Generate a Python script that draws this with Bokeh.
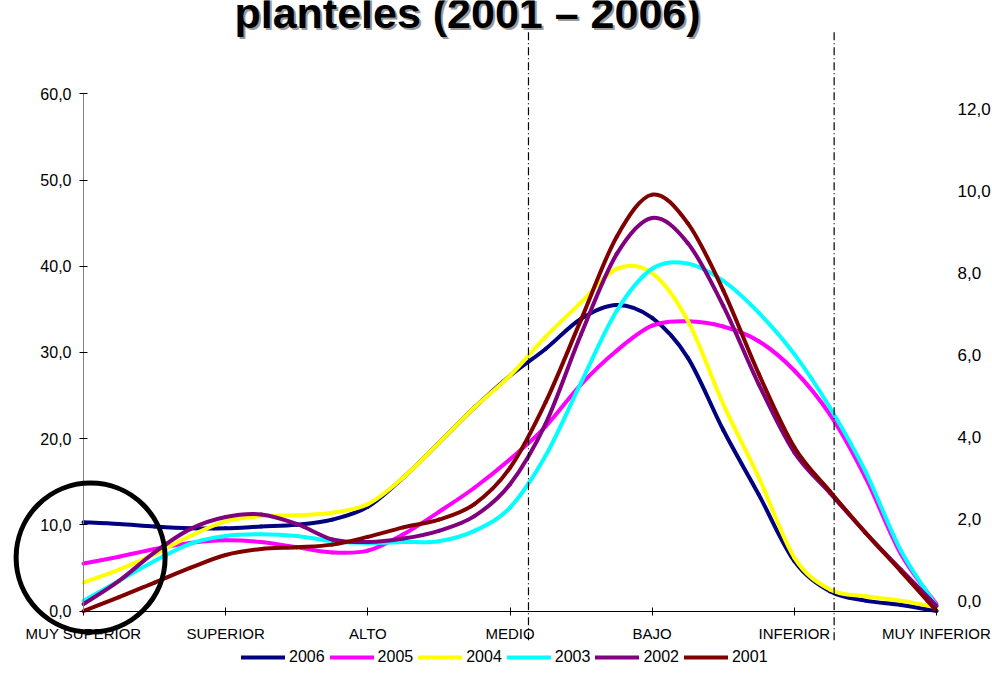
import numpy as np
from bokeh.plotting import figure
from bokeh.models import Range1d, LinearAxis, FixedTicker, Label, Legend, LegendItem
from bokeh.embed import file_html
from bokeh.resources import INLINE

# ---------------- data ----------------
CATEGORIES = ["MUY SUPERIOR", "SUPERIOR", "ALTO", "MEDIO", "BAJO", "INFERIOR", "MUY INFERIOR"]
STEPS_PER_CATEGORY = 4  # curve read every quarter category

Y_TICKS = [0, 10, 20, 30, 40, 50, 60]
Y_TICK_LABELS = ["0,0", "10,0", "20,0", "30,0", "40,0", "50,0", "60,0"]
Y2_TICKS = [0, 2, 4, 6, 8, 10, 12]
Y2_TICK_LABELS = ["0,0", "2,0", "4,0", "6,0", "8,0", "10,0", "12,0"]

YEARS = ["2006", "2005", "2004", "2003", "2002", "2001"]

S2006 = [10.3, 10.1, 9.8, 9.6, 9.6, 9.8, 10.0, 10.6, 12.1, 15.5, 19.5, 23.6, 27.3,
         30.4, 33.9, 35.5, 34.0, 29.4, 21.0, 13.5, 5.8, 2.3, 1.2, 0.7, 0.0]
S2005 = [5.5, 6.3, 7.2, 7.9, 8.2, 8.0, 7.4, 6.8, 7.0, 8.9, 11.5, 14.3, 17.6,
         21.4, 26.3, 30.2, 33.1, 33.6, 33.0, 31.3, 27.9, 22.8, 15.5, 6.6, 0.8]
S2004 = [3.3, 4.8, 6.6, 8.7, 10.4, 11.0, 11.1, 11.4, 12.4, 15.5, 19.5, 23.6, 27.3,
         31.8, 35.8, 39.7, 39.2, 33.7, 24.0, 15.5, 6.2, 2.5, 1.7, 1.2, 0.4]
S2003 = [1.2, 3.5, 5.8, 7.8, 8.7, 8.9, 8.7, 8.1, 7.9, 8.0, 8.1, 9.3, 12.0,
         18.0, 26.5, 34.8, 39.7, 40.3, 38.3, 34.6, 29.8, 23.6, 16.2, 7.0, 0.6]
S2002 = [0.8, 3.5, 6.8, 9.5, 10.9, 11.2, 10.1, 8.3, 8.0, 8.4, 9.3, 11.0, 14.7,
         21.7, 32.1, 41.4, 45.6, 42.7, 35.4, 26.3, 18.4, 13.7, 9.1, 4.8, 0.6]
S2001 = [0.0, 1.6, 3.3, 5.0, 6.5, 7.2, 7.4, 7.7, 8.6, 9.7, 10.6, 12.4, 16.6,
         24.2, 33.8, 43.4, 48.3, 45.0, 37.2, 27.5, 19.0, 13.9, 9.1, 4.6, 0.0]
SERIES = [S2006, S2005, S2004, S2003, S2002, S2001]
COLORS = ["#000080", "#FF00FF", "#FFFF00", "#00FFFF", "#800080", "#800000"]

TITLE_TEXT = "planteles (2001 – 2006)"

# annotations (category-axis positions / values)
DIVIDER_X = [3.13, 5.28]
DIVIDER_Y = (-3.4, 67.3)
CIRCLE_CENTER = (0.05, 6.2)

# ---------------- layout ----------------
W, H = 992, 691
FONT = "Liberation Sans"
X0_PX, X6_PX = 83.0, 936.0          # px of first / last category
PX_X = (X6_PX - X0_PX) / (len(CATEGORIES) - 1)
Y0_PX, PX_Y = 610.5, 8.62           # px of 0 (from top), px per unit
Y2_0_PX, PX_Y2 = 600.0, 41.0

x_range = Range1d(-X0_PX / PX_X, (W - X0_PX) / PX_X)
y_range = Range1d(-(H - Y0_PX) / PX_Y, Y0_PX / PX_Y)
y2_range = Range1d(-(H - Y2_0_PX) / PX_Y2, Y2_0_PX / PX_Y2)

p = figure(width=W, height=H, x_range=x_range, y_range=y_range,
           output_backend="svg", toolbar_location=None,
           x_axis_location=None, y_axis_location=None,
           min_border=0, outline_line_color=None)
p.grid.visible = False
p.extra_y_ranges = {"right": y2_range}


def smooth_segments(xv, yv):
    """Catmull-Rom control points for a smoothed (Excel-like) curve."""
    xv = np.asarray(xv, float)
    yv = np.asarray(yv, float)
    xp = np.concatenate([[xv[0]], xv, [xv[-1]]])
    yp = np.concatenate([[yv[0]], yv, [yv[-1]]])
    n = len(xv) - 1
    i = np.arange(n) + 1
    return dict(x0=xp[i], y0=yp[i], x1=xp[i + 1], y1=yp[i + 1],
                cx0=xp[i] + (xp[i + 1] - xp[i - 1]) / 6, cy0=yp[i] + (yp[i + 1] - yp[i - 1]) / 6,
                cx1=xp[i + 1] - (xp[i + 2] - xp[i]) / 6, cy1=yp[i + 1] - (yp[i + 2] - yp[i]) / 6)


xs = np.arange(len(S2006)) / STEPS_PER_CATEGORY
renderers = []
for year, vals, col in zip(YEARS, SERIES, COLORS):
    r = p.bezier(**smooth_segments(xs, vals), line_color=col, line_width=4,
                 line_cap="round", line_join="round")
    renderers.append((year, r))

# dash-dot dividers
p.segment(x0=DIVIDER_X, y0=[DIVIDER_Y[0]] * len(DIVIDER_X),
          x1=DIVIDER_X, y1=[DIVIDER_Y[1]] * len(DIVIDER_X),
          line_color="black", line_width=1.2, line_dash="8 3 1 3", level="overlay")

# black highlight circle
p.scatter([CIRCLE_CENTER[0]], [CIRCLE_CENTER[1]], marker="circle", size=149,
          fill_color=None, line_color="black", line_width=5, level="overlay")

# axes
xaxis = LinearAxis(ticker=FixedTicker(ticks=list(range(len(CATEGORIES)))),
                   fixed_location=0, bounds=(0, len(CATEGORIES) - 1),
                   major_label_overrides={i: c for i, c in enumerate(CATEGORIES)},
                   axis_line_color="black", major_tick_line_color="black",
                   major_tick_in=4, major_tick_out=4, minor_tick_line_color=None,
                   major_label_standoff=10, major_label_text_font=FONT,
                   major_label_text_font_size="15px", major_label_text_color="black")
p.add_layout(xaxis, "below")

yaxis = LinearAxis(ticker=FixedTicker(ticks=Y_TICKS), fixed_location=0,
                   bounds=(Y_TICKS[0], Y_TICKS[-1]),
                   major_label_overrides=dict(zip(Y_TICKS, Y_TICK_LABELS)),
                   axis_line_color="#808080", major_tick_line_color="black",
                   major_tick_in=4, major_tick_out=4, minor_tick_line_color=None,
                   major_label_standoff=8, major_label_text_font=FONT,
                   major_label_text_font_size="16px", major_label_text_color="black")
p.add_layout(yaxis, "left")

y2axis = LinearAxis(y_range_name="right", ticker=FixedTicker(ticks=Y2_TICKS),
                    fixed_location=len(CATEGORIES) - 1,
                    major_label_overrides=dict(zip(Y2_TICKS, Y2_TICK_LABELS)),
                    axis_line_color=None, major_tick_line_color=None,
                    major_tick_in=0, major_tick_out=0, minor_tick_line_color=None,
                    major_label_standoff=21, major_label_text_font=FONT,
                    major_label_text_font_size="17px", major_label_text_color="black")
p.add_layout(y2axis, "right")

# title (partially cut at the top, with drop shadow)
for dx, col in ((2, "#9a9a9a"), (0, "black")):
    p.add_layout(Label(x=467 + dx, y=H - 12 - dx, x_units="screen", y_units="screen",
                       text=TITLE_TEXT, text_align="center", text_baseline="alphabetic",
                       text_font=FONT, text_font_style="bold", text_font_size="43px",
                       text_color=col))

legend = Legend(items=[LegendItem(label=y, renderers=[r]) for y, r in renderers],
                location=(241, H - 667), orientation="horizontal",
                glyph_width=44, glyph_height=20, label_height=20, label_standoff=4,
                spacing=5, padding=0, margin=0, border_line_color=None,
                background_fill_alpha=0, label_text_font=FONT,
                label_text_font_size="16px", label_text_color="black")
p.add_layout(legend)

open("out.html", "w").write(file_html(p, INLINE))
